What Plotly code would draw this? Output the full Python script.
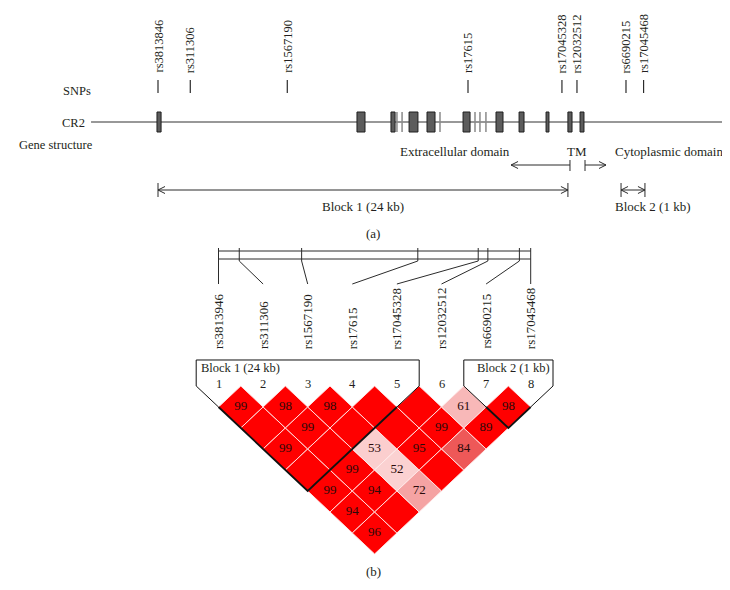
import plotly.graph_objects as go

# ---------------- data ----------------
# Panel (a): CR2 gene structure; positions in kb relative to the first SNP
snp_a_names = ["rs3813846", "rs311306", "rs1567190", "rs17615",
               "rs17045328", "rs12032512", "rs6690215", "rs17045468"]
snp_a_kb = [0.0, 1.89, 7.57, 18.15, 23.65, 24.53, 27.40, 28.43]

gene_name = "CR2"
gene_start_kb = -3.92
gene_end_kb = 33.49

exon_start_kb = [-0.06, 11.65, 13.64, 14.70, 15.75, 17.86, 19.79, 21.14, 22.72, 24.00, 24.71]
exon_end_kb = [0.18, 12.12, 13.88, 15.22, 16.22, 18.27, 20.20, 21.43, 22.89, 24.24, 24.94]
small_exon_kb = [13.99, 14.29, 16.51, 18.56, 18.85, 19.20]

domain_names = ["Extracellular domain", "TM", "Cytoplasmic domain"]
domain_label_kb = [17.39, 24.53, 29.92]
tm_start_kb = 24.12
tm_end_kb = 25.00
extracellular_arrow_kb = 20.67
cytoplasmic_arrow_kb = 26.23

block_names = ["Block 1 (24 kb)", "Block 2 (1 kb)"]
block_start_kb = [0.0, 27.11]
block_end_kb = [24.0, 28.51]

# Panel (b): LD plot (D' x 100); row k = SNP k+1 paired with SNPs k+2..8
snp_b_names = ["rs3813946", "rs311306", "rs1567190", "rs17615",
               "rs17045328", "rs12032512", "rs6690215", "rs17045468"]
snp_b_kb = snp_a_kb
ld_dprime = [
    [99, 100, 99, 100, 99, 94, 96],
    [98, 99, 100, 99, 94, 100],
    [98, 100, 53, 52, 72],
    [100, 100, 95, 100],
    [100, 99, 84],
    [61, 89],
    [98],
]
ld_block_first = [1, 7]
ld_block_last = [5, 8]
ld_block_names = ["Block 1 (24 kb)", "Block 2 (1 kb)"]

# ---------------- styles ----------------
FONT = "Liberation Serif, Times New Roman, serif"
TXT = "#231f20"
LINE = "#2b2b2b"

# y positions (pixel-like units on the shared y axis)
Y_SNP_LABEL = 67
Y_SNP_TICK = (72, 85)
Y_GENE = 114
Y_EXON = (104, 124)
Y_DOMAIN_TXT = 143
Y_DOMAIN_ARROW = 157
Y_BLOCK_ARROW = 182
Y_BLOCK_TXT = 198
Y_CAPTION_A = 225
Y_BAR = (243, 251)
Y_BAR_TICK = (240, 253)
Y_CONN_END = 276
Y_B_LABEL = 343
Y_BOX_TOP = 352
Y_BLOCK_B_TXT = 360
Y_NUM = 376
Y_CAPTION_B = 563


def shade(v):
    stops = [(50, (252, 214, 214)), (61, (248, 184, 184)), (72, (245, 163, 163)),
             (84, (238, 88, 88)), (89, (255, 0, 0)), (100, (255, 0, 0))]
    if v <= stops[0][0]:
        c = stops[0][1]
    else:
        c = stops[-1][1]
        for (a, ca), (b, cb) in zip(stops[:-1], stops[1:]):
            if a <= v <= b:
                t = (v - a) / (b - a)
                c = tuple(ca[k] + t * (cb[k] - ca[k]) for k in range(3))
                break
    return "rgb(%d,%d,%d)" % tuple(round(x) for x in c)


fig = go.Figure()
shapes = []
ann = []


def line(x0, y0, x1, y1, xref="x", yref="y", color=LINE, width=1):
    shapes.append(dict(type="line", x0=x0, y0=y0, x1=x1, y1=y1, xref=xref, yref=yref,
                       line=dict(color=color, width=width), layer="above"))


def chevron(x, y, direction, xref="x"):
    # open arrow head, drawn in pixel offsets around the anchor point
    d = 7 if direction == "left" else -7
    shapes.append(dict(type="path", xref=xref, yref="y", xsizemode="pixel", ysizemode="pixel",
                       xanchor=x, yanchor=y,
                       path="M %g,3.5 L 0,0 L %g,-3.5" % (d, d),
                       line=dict(color=LINE, width=1)))


def text(x, y, s, xref="x", yref="y", size=12.5, xanchor="center", yanchor="middle", angle=0, xshift=0):
    ann.append(dict(x=x, y=y, xref=xref, yref=yref, text=s, showarrow=False, textangle=angle,
                    xanchor=xanchor, yanchor=yanchor, xshift=xshift,
                    font=dict(family=FONT, size=size, color=TXT)))


# ---------------- panel (a) ----------------
text(69 / 730, Y_SNP_TICK[1] - 2, "SNPs", xref="paper")
text(79 / 730, Y_GENE + 1, gene_name, xref="paper", xanchor="right")
text(48 / 730, 137, "Gene structure", xref="paper")

line(gene_start_kb, Y_GENE, gene_end_kb, Y_GENE, color="#333333", width=1.2)
for kb in small_exon_kb:
    line(kb, Y_EXON[0], kb, Y_EXON[1], color="#8a8a8a", width=1.5)
for s, e in zip(exon_start_kb, exon_end_kb):
    shapes.append(dict(type="rect", xref="x", yref="y", x0=s, x1=e, y0=Y_EXON[0], y1=Y_EXON[1],
                       fillcolor="#5c5c5c", line=dict(color="#1e1e1e", width=1), layer="above"))

for name, kb in zip(snp_a_names, snp_a_kb):
    line(kb, Y_SNP_TICK[0], kb, Y_SNP_TICK[1], width=1.2)
    text(kb, Y_SNP_LABEL, name, size=12.5, yanchor="bottom", angle=-90)

for name, kb in zip(domain_names, domain_label_kb):
    text(kb, Y_DOMAIN_TXT, name, size=13)
line(extracellular_arrow_kb, Y_DOMAIN_ARROW, tm_start_kb, Y_DOMAIN_ARROW)
line(tm_start_kb, Y_DOMAIN_ARROW - 5, tm_start_kb, Y_DOMAIN_ARROW + 6)
chevron(extracellular_arrow_kb, Y_DOMAIN_ARROW, "left")
line(tm_end_kb, Y_DOMAIN_ARROW, cytoplasmic_arrow_kb, Y_DOMAIN_ARROW)
line(tm_end_kb, Y_DOMAIN_ARROW - 5, tm_end_kb, Y_DOMAIN_ARROW + 6)
chevron(cytoplasmic_arrow_kb, Y_DOMAIN_ARROW, "right")

for k, (name, s, e) in enumerate(zip(block_names, block_start_kb, block_end_kb)):
    line(s, Y_BLOCK_ARROW, e, Y_BLOCK_ARROW)
    line(s, Y_BLOCK_ARROW - 7, s, Y_BLOCK_ARROW + 7)
    line(e, Y_BLOCK_ARROW - 7, e, Y_BLOCK_ARROW + 7)
    chevron(s, Y_BLOCK_ARROW, "left")
    chevron(e, Y_BLOCK_ARROW, "right")
    if k == 0:
        text((s + e) / 2, Y_BLOCK_TXT, name, size=13)
    else:
        text(s, Y_BLOCK_TXT, name, size=13, xanchor="left", xshift=-8)

text(0.5, Y_CAPTION_A, "(a)", xref="paper", size=13)

# ---------------- panel (b) ----------------
n = len(snp_b_names)
kb0, kb1 = snp_b_kb[0], snp_b_kb[-1]
bar_idx = [1 + (n - 1) * (kb - kb0) / (kb1 - kb0) for kb in snp_b_kb]

line(1, Y_BAR[0], n, Y_BAR[0], xref="x2")
line(1, Y_BAR[1], n, Y_BAR[1], xref="x2")
for i, (name, bi) in enumerate(zip(snp_b_names, bar_idx), start=1):
    line(bi, Y_BAR_TICK[0], bi, Y_BAR_TICK[1], xref="x2")
    line(bi, Y_BAR_TICK[1], i, Y_CONN_END, xref="x2")
    text(i, Y_B_LABEL, name, xref="x2", size=13, yanchor="bottom", angle=-90)
    text(i, Y_NUM, str(i), xref="x2", size=12.5)

# LD diamonds
num_x, num_y, num_t = [], [], []
for i, row in enumerate(ld_dprime, start=1):
    for off, v in enumerate(row, start=1):
        j = i + off
        cx, cy = (i + j) / 2, (j - i) / 2
        fig.add_trace(go.Scatter(
            x=[cx - 0.5, cx, cx + 0.5, cx, cx - 0.5],
            y=[cy, cy - 0.5, cy, cy + 0.5, cy],
            xaxis="x2", yaxis="y2", mode="lines", fill="toself",
            fillcolor=shade(v), line=dict(color="rgba(255,235,235,0.9)", width=1),
            hoverinfo="skip", showlegend=False))
        if v < 100:
            num_x.append(cx)
            num_y.append(cy)
            num_t.append(str(v))

fig.add_trace(go.Scatter(x=num_x, y=num_y, text=num_t, mode="text", xaxis="x2", yaxis="y2",
                         textfont=dict(family=FONT, size=13, color="#2a0a0a"),
                         hoverinfo="skip", showlegend=False))

# block outlines
box_top = -0.619  # in LD-row units
for a, b, name in zip(ld_block_first, ld_block_last, ld_block_names):
    fig.add_trace(go.Scatter(
        x=[a, (a + b) / 2, b], y=[0.5, (b - a) / 2 + 0.5, 0.5],
        xaxis="x2", yaxis="y2", mode="lines", line=dict(color="#111111", width=1.8),
        hoverinfo="skip", showlegend=False))
    fig.add_trace(go.Scatter(
        x=[a, a - 0.5, a - 0.5, b + 0.5, b + 0.5, b],
        y=[0.5, 0, box_top, box_top, 0, 0.5],
        xaxis="x2", yaxis="y2", mode="lines", line=dict(color="#111111", width=1),
        hoverinfo="skip", showlegend=False))
text(ld_block_first[0] - 0.5, Y_BLOCK_B_TXT, ld_block_names[0], xref="x2", size=12.5,
     xanchor="left", xshift=3)
text(ld_block_last[1] + 0.5, Y_BLOCK_B_TXT, ld_block_names[1], xref="x2", size=12.5,
     xanchor="right", xshift=-1)

text(0.5, Y_CAPTION_B, "(b)", xref="paper", size=13)

fig.update_layout(
    width=730, height=590, margin=dict(l=0, r=0, t=0, b=0),
    paper_bgcolor="white", plot_bgcolor="white", showlegend=False,
    xaxis=dict(range=[-8.782, 33.958], visible=False, domain=[0, 1], fixedrange=True),
    yaxis=dict(range=[590, 0], visible=False, domain=[0, 1], fixedrange=True),
    xaxis2=dict(range=[-3.7197, 12.648], visible=False, overlaying="x", anchor="y", fixedrange=True),
    yaxis2=dict(range=[5.048, -9.0], visible=False, overlaying="y", anchor="x", fixedrange=True),
    shapes=shapes, annotations=ann,
)
fig.write_html("out.html")
